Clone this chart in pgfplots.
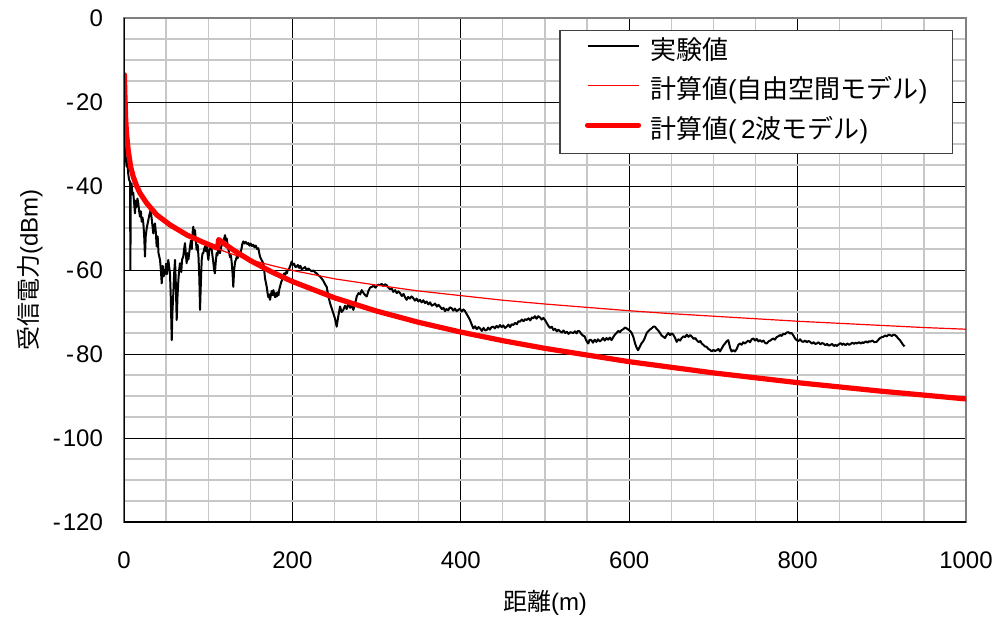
\documentclass[border=0pt]{standalone}
\usepackage{fontspec}
\setmainfont{Liberation Sans}
\newfontfamily\jp{Noto Sans CJK JP}
\usepackage{pgfplots}
\pgfplotsset{compat=1.18}

\pgfplotstableread{
x y
0 -24
0.6 -27
1.2 -30.6
2 -33
3.2 -35.4
4 -34
5 -37
6 -38.5
7.2 -39
7.6 -60
8.0 -40
9 -39.4
10 -42
11 -41.6
12 -44
13 -46.5
14 -43.5
15 -45
16 -43
17 -44.1
18 -46
19 -47.3
20 -46
21 -48.5
22 -47.5
23 -48.9
24 -52
24.9 -56.8
25.8 -52
27 -50
28.9 -48.1
30 -47
31.7 -45.7
33 -48
34.8 -51.3
36 -49.5
36.8 -48.9
37.8 -51
38.8 -54.4
40 -52
41 -56
42.8 -57.6
43.8 -60
44.8 -63.2
46 -59
47 -61.5
48.7 -60.8
50 -58.5
51 -61
52.6 -57.6
53.5 -59
54.6 -60.8
55.5 -66
56.7 -76.7
57.5 -70
58.6 -65.5
59.5 -61
60.6 -57.6
61.5 -63
62.6 -71.9
63.6 -66
64.6 -62.4
65.5 -60
66.5 -58.4
68 -60.5
69 -57.5
70.4 -56.8
71.4 -55
72.4 -53.6
73.4 -56
74.4 -58.4
75.5 -56
76.5 -57.5
78.4 -54.4
79.5 -53
80.5 -55
81.5 -51
82.3 -49.7
83.3 -52
84.3 -50.5
85.3 -53
86.3 -55.2
87.5 -54
88.5 -57
89.5 -62
90.3 -69.5
91.3 -63
92.3 -57.6
93.3 -56
94.2 -56
95.2 -55
96.2 -54.4
97.2 -55.5
98.2 -54.4
99.2 -56
100.2 -57.6
101.2 -55.5
102.2 -54.5
103.2 -55
104.1 -55
105 -56.5
106 -58
107 -60
108 -60.8
109 -58
110 -56
111 -56.5
112 -55.2
113 -54.5
114 -56
115 -55
116 -54
117 -53
118 -53.5
119 -52.5
120 -51.7
121 -53
122 -52.5
123 -54
124 -55.2
125 -56
126 -57
127 -56.5
128 -58.4
129 -61
129.8 -64
130.8 -60
132 -58
133 -57.5
134 -56.8
135 -57.2
136 -56.5
137 -56.5
138 -56
139.5 -55
140.5 -53.8
141.7 -53.2
143 -53.7
144.5 -53.3
146 -53.8
147.7 -53.6
149 -54.2
150.5 -53.7
152 -54.3
153.6 -54
155 -54.6
156.5 -54.2
158 -55
159.5 -54.8
160.5 -55.8
161.5 -56.8
163 -57.5
164.5 -58
165.5 -58.4
166.5 -60
167.5 -62
168.5 -63
169.5 -64
170.5 -65.5
171.5 -66.5
172.5 -65.8
173.4 -67.1
174.5 -66
175.5 -65
176.5 -66
177.4 -64.8
178.5 -65.8
179.5 -66.5
180.5 -65.5
181.4 -66.3
182.5 -65.3
183.5 -66
184.5 -64.5
185.3 -64
186.5 -63
187.5 -62.5
188.5 -62
189.5 -61.5
190.3 -60.8
191.2 -61.2
192.5 -60.5
193.5 -60.8
194.5 -60
195.2 -60
196.5 -59.5
197.5 -59
199.1 -58
200.5 -58.8
202 -58.5
203.5 -59.3
205 -59.2
206.5 -58.8
208 -59.5
209.5 -59
211 -59.8
213 -59.6
215 -59.3
217 -60
219 -59.6
221 -60
223 -60.3
225 -60.1
227 -60.6
228.9 -60.8
230.5 -61.2
232.5 -61.5
234.8 -62
236.5 -62.5
238.5 -63.3
240.7 -64
242.5 -66
244.7 -67.9
246.5 -69
248.6 -70.3
250.5 -71.5
252.6 -73.5
254.5 -71
256.6 -68.7
258.5 -70
260.5 -69.5
262.5 -68.5
264.5 -69.3
266.5 -67.9
268.5 -69
270.5 -68.4
272.4 -69.5
274.5 -68
276.4 -66.3
278.5 -65.5
280.5 -65.8
282.3 -64.8
284.5 -65.5
286.5 -66
288.3 -66.3
290.3 -65
292.2 -64.2
294.5 -64
296.5 -63.7
298.5 -64.2
300.2 -63.8
302 -63.5
304 -63.6
306 -63.3
308 -63.8
310 -63.4
312 -63.6
314 -64.2
316 -64.6
318 -64.4
319.8 -65.2
322 -64.8
324 -65.5
326 -65.1
327.8 -65.5
330 -66.2
332 -65.7
333.8 -66.5
335.7 -67.1
337.5 -66.4
339.5 -66.8
341.5 -66.3
343.6 -66.7
345.5 -67.3
347.5 -66.8
349.5 -67.5
351.5 -67.1
353.5 -67.7
355.5 -67.2
357.5 -67.9
359.4 -67.5
361.5 -68.2
363.5 -67.7
365.5 -68.5
367.4 -68.3
369.5 -68
371.5 -68.7
373.5 -68.3
375.3 -68.7
377.5 -69.3
379.5 -69
381.2 -69.8
383 -69.3
385 -69.6
387 -68.9
389.2 -69.1
391 -69.7
393 -69.2
395 -69.8
397.1 -69.5
399 -69.2
401 -69.9
403 -69.4
405 -69.8
407 -70.5
409 -71.2
410.9 -71.9
413 -73
414.9 -73.9
417 -73.4
419 -74.1
421 -73.6
422.8 -73.9
425 -74.5
427 -73.8
429 -74.4
430.7 -74.3
432.5 -73.7
434.5 -74.2
436.5 -73.6
438.6 -73.5
440.5 -73.9
442.5 -73.3
444.5 -73.7
446.5 -73.1
448.5 -73.6
450.5 -73.2
452.5 -73.8
454.5 -73.5
456.5 -73
458.5 -73.6
460.5 -72.9
462.4 -73.1
464.5 -72.6
466.5 -72.9
468.5 -72.2
470.3 -72.3
472.5 -71.8
474.5 -72.2
476.5 -71.7
478.2 -71.9
480.5 -71.5
482.5 -72
484.5 -71.3
486.1 -71.5
488 -71
490 -71.6
492 -71
494.1 -71.3
496 -71.8
498 -71.4
500 -71.9
502 -72.6
504 -73.3
506 -73.8
508 -73.5
510 -74.3
512 -74
514 -74.6
516 -74.2
518 -74.6
520 -74.9
522 -74.4
524 -75
526 -74.7
528 -75.2
530 -74.8
533.5 -75
535.5 -74.6
537.5 -75.1
539 -74.5
541 -74.6
543 -75.2
545 -75.6
547 -75.8
549 -76.8
551.4 -77.5
553 -76.6
555 -76.7
557 -77.3
559 -76.6
561 -77.1
563 -76.5
565 -77
567 -76.7
569 -76.2
571 -76.8
573 -76.2
575 -76.6
577 -76.1
579 -76.7
581 -76
583 -75.4
585 -75
587 -74.5
589 -74.8
591 -74.3
593 -74.1
595 -73.7
597 -73.9
599 -74.2
601 -74.5
603 -75
605 -76
607 -77.5
608.8 -78.5
610.5 -79.1
612.5 -78.3
614.5 -77.5
616.5 -77
618.5 -76.2
620.8 -75
622.5 -74.6
624.5 -74.2
626.7 -73.9
628.5 -73.5
630.6 -73.5
632.5 -74
634.5 -74.4
636.6 -75
638.5 -75.6
640.5 -75.9
642.5 -76.2
644.5 -75.5
646.5 -75
648.5 -75.5
650.5 -75.1
652.4 -75.4
654.5 -76.2
656.4 -77.1
658.5 -76.5
660.5 -76.8
662.3 -76.2
664.5 -75.8
666.5 -76
668.3 -75.4
670.5 -75.9
672.5 -75.5
674.2 -75.8
676.5 -76.4
678.5 -76.2
680.1 -76.7
682.5 -77.2
684.5 -76.9
686.1 -77.5
688 -77.8
690 -78.2
692 -78.3
694 -78.8
696 -79
698 -79.4
700 -79
702 -79.3
703.9 -79.1
706 -78.8
707.8 -79.4
709.8 -78.7
711.8 -78
713.8 -77.5
715.7 -77
717.7 -76.7
719.8 -78.5
721.7 -79.4
723.7 -79.1
725.7 -79.4
727.7 -78.8
729.7 -77.8
731.6 -77.5
733.5 -77.8
735.5 -77.2
737.5 -77.5
739.5 -77.1
741.5 -76.8
743.5 -77.2
745.5 -76.5
747.5 -76.3
749.5 -76.8
751.5 -76.4
753.5 -77
755.4 -76.7
757.5 -77.1
759.5 -76.8
761.5 -77.4
763.3 -77.5
765.5 -77
767.5 -76.8
769.5 -76.5
771.2 -76.3
773 -76.6
775 -76
777 -75.8
779.1 -75.5
781 -75.7
783 -75.2
785 -75.3
787 -74.9
789 -74.8
791 -75.1
793 -75
795 -75.6
797 -76.3
798.9 -76.7
801 -76.9
803 -76.5
805 -77
806.8 -77.1
809 -76.8
811 -77.2
813 -76.9
814.7 -77.1
817 -77.5
819 -77.2
821 -77.6
822.7 -77.5
825 -77.2
827 -77.7
829 -77.4
830.6 -77.5
833 -77.9
835 -77.6
837 -78
838.5 -77.9
841 -77.6
843 -78.1
845 -77.8
846.4 -78.1
849 -77.7
851 -77.4
853 -77.8
854.3 -77.5
857 -77.9
859 -77.5
861 -77.8
862.3 -77.7
865 -77.3
867 -77.6
869 -77.3
870.2 -77.5
873 -77.2
875 -77.5
877 -77.2
878.1 -77.4
881 -77
883 -77.3
885 -76.9
886 -77.1
889 -76.8
891 -77.2
893.9 -77.1
896 -76.6
898 -76.2
900 -76
901.8 -75.9
904 -75.6
906 -75.8
908 -75.4
909.8 -75.5
912 -75.7
914 -75.4
915.7 -75.5
917.5 -75.8
919.5 -76.3
921.6 -76.7
923.5 -77.3
925.6 -77.9
927 -78.2
}\measured

\pgfplotstableread{
x y
0.5 -13.5
1 -18
2 -24
3 -27.5
5 -31.5
8 -35.5
11 -37.8
15 -40
19 -41.7
27 -44.1
39 -46.6
55 -48.9
75 -51.6
100 -54.1
125 -56.0
150 -57.6
175 -58.9
200 -60.1
250 -62.1
300 -63.6
350 -65.0
400 -66.1
450 -67.2
500 -68.1
550 -68.9
600 -69.7
650 -70.4
700 -71.0
750 -71.6
800 -72.2
850 -72.7
900 -73.2
950 -73.7
1000 -74.1
}\freespace

\pgfplotstableread{
x y
0.5 -13.5
1 -18
2 -24
3 -27.5
5 -31.5
8 -35.5
11 -37.8
15 -40
19 -41.7
27 -44.1
39 -46.9
55 -49.3
75 -51.7
94 -53.4
111 -54.8
112.5 -52.75
120 -53.87
130 -55.26
150 -57.74
175 -60.42
200 -62.74
250 -66.62
300 -69.78
350 -72.46
400 -74.78
450 -76.83
500 -78.66
600 -81.83
700 -84.50
800 -86.82
900 -88.87
1000 -90.7
}\tworay

\begin{document}
\begin{tikzpicture}
\begin{axis}[
  at={(0,0)}, anchor=south west,
  scale only axis, width=421pt, height=252pt,
  xmin=0, xmax=1000, ymin=-120, ymax=0,
  xtick={0,200,400,600,800,1000},
  xticklabels={0,200,400,600,800,1000},
  ytick={-120,-100,-80,-60,-40,-20,0},
  yticklabels={-\kern1pt 120,-\kern1pt 100,-\kern1pt 80,-\kern1pt 60,-\kern1pt 40,-\kern1pt 20,0},
  minor x tick num=3, minor y tick num=3,
  grid=both,
  major grid style={black, line width=0.5pt},
  minor grid style={black!22, line width=0.6pt},
  tick style={draw=none},
  axis line style={draw=black!50, line width=0.6pt},
  tick label style={font=\fontsize{12}{14}\selectfont},
  yticklabel style={xshift=-7pt},
  xticklabel style={yshift=-11.5pt},
  xlabel={{\jp 距離}(m)},
  ylabel={{\jp 受信電力}(dBm)},
  label style={font=\fontsize{12}{14}\selectfont},
  x label style={at={(axis description cs:0.5,-0.1607)}, anchor=center},
  y label style={at={(axis description cs:-0.1116,0.5)}, anchor=center, rotate=0},
  legend style={at={(rel axis cs:0.9846,0.976)}, anchor=north east,
    draw=black!75, line width=0.6pt, fill=white,
    font=\fontsize{13}{15}\selectfont,
    nodes={inner xsep=0pt, inner ysep=0pt, text height=9.5pt, text depth=3pt},
    column sep=4.5pt,
    inner xsep=12.5pt, inner ysep=4.75pt, row sep=7.25pt},
  legend cell align=left,
  legend image code/.code={\draw[#1] (0pt,3.25pt) -- (25.5pt,3.25pt);},
]
\addplot[black, line width=1pt, line join=round] table[x=x,y=y] {\measured};
\addlegendentry{{\jp 実験値}}
\addplot[red, line width=0.6pt] table[x=x,y=y] {\freespace};
\addlegendentry{{\jp 計算値}({\jp 自由空間モデル})}
\addplot[red, line width=2.6pt, line cap=round, line join=round] table[x=x,y=y] {\tworay};
\addlegendentry{{\jp 計算値}(\,2{\jp 波モデル})}
\draw[black, line width=0.8pt] (rel axis cs:0,1) -- (rel axis cs:0,0) -- (rel axis cs:1,0);
\end{axis}
\pgfresetboundingbox
\path[use as bounding box] (-62pt,-47.5pt) rectangle (437pt,261pt);
\end{tikzpicture}
\end{document}
